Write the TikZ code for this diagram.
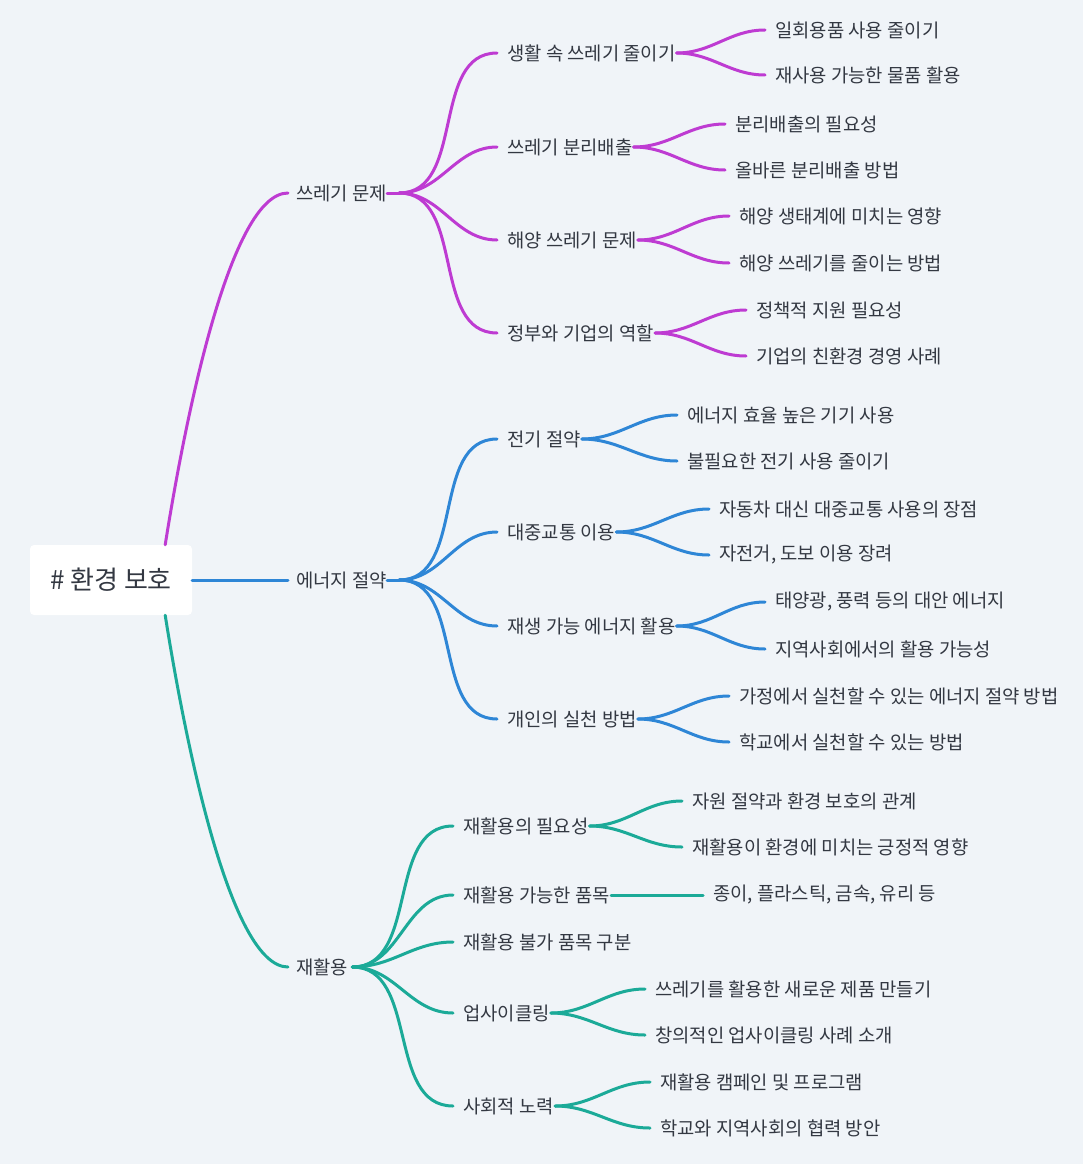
\documentclass[tikz,border=0pt]{standalone}
\usepackage{fontspec}
\setmainfont{Noto Sans CJK KR}
\definecolor{bg}{HTML}{F0F4F8}
\definecolor{cP}{HTML}{BE3BD2}
\definecolor{cB}{HTML}{2E86D6}
\definecolor{cT}{HTML}{1BAA98}
\definecolor{tx}{HTML}{333842}
\tikzset{
  lbl/.style={anchor=west,inner sep=0pt,text=tx,font=\fontsize{18.8}{22}\selectfont},
  edge/.style={line width=3pt,line cap=round},
}
\newcommand\kid[6]{%
  \node[lbl] (#2) at (#3,#4) {#5};
  \coordinate (#2-in) at (#3-10,#4);
  \coordinate (#2-out) at ([xshift=1pt]#2.east);
  \draw[edge,#6] (#1) to[out=0,in=180] (#2-in);
}
\begin{document}
\begin{tikzpicture}[x=1pt,y=-1pt]
\fill[bg] (0,0) rectangle (1083,1164);
\useasboundingbox (0,0) rectangle (1083,1164);
\node[fill=white,rounded corners=4pt,minimum width=162pt,minimum height=70pt,text=tx,font=\fontsize{26}{30}\selectfont] (root) at (111,580) {\# 환경 보호};
% level 1
\node[lbl] (A) at (296,193) {쓰레기 문제};
\node[lbl] (B) at (296,580) {에너지 절약};
\node[lbl] (C) at (296,967) {재활용};
\coordinate (A-out) at ([xshift=12pt]A.east);
\coordinate (B-out) at ([xshift=12pt]B.east);
\coordinate (C-out) at ([xshift=4pt]C.east);
\draw[edge,cP] (A.east) -- (A-out);
\draw[edge,cB] (B.east) -- (B-out);
\draw[edge,cT] (root.north east) ++(-27,0) coordinate (rA) (root.south east) ++(-27,0) coordinate (rC);
\draw[edge,cP] (rA) .. controls (185,420) and (230,193) .. (288,193);
\draw[edge,cB] (root.east) -- (288,580);
\draw[edge,cT] (rC) .. controls (185,740) and (230,967) .. (288,967);
% purple
\kid{A-out}{A1}{507}{53}{생활 속 쓰레기 줄이기}{cP}
\kid{A-out}{A2}{507}{147}{쓰레기 분리배출}{cP}
\kid{A-out}{A3}{507}{240}{해양 쓰레기 문제}{cP}
\kid{A-out}{A4}{507}{333}{정부와 기업의 역할}{cP}
\kid{A1-out}{A11}{775}{30}{일회용품 사용 줄이기}{cP}
\kid{A1-out}{A12}{775}{75}{재사용 가능한 물품 활용}{cP}
\kid{A2-out}{A21}{735}{124}{분리배출의 필요성}{cP}
\kid{A2-out}{A22}{735}{170}{올바른 분리배출 방법}{cP}
\kid{A3-out}{A31}{739}{216}{해양 생태계에 미치는 영향}{cP}
\kid{A3-out}{A32}{739}{263}{해양 쓰레기를 줄이는 방법}{cP}
\kid{A4-out}{A41}{756}{310}{정책적 지원 필요성}{cP}
\kid{A4-out}{A42}{756}{356}{기업의 친환경 경영 사례}{cP}
% blue
\kid{B-out}{B1}{507}{439}{전기 절약}{cB}
\kid{B-out}{B2}{507}{532}{대중교통 이용}{cB}
\kid{B-out}{B3}{507}{626}{재생 가능 에너지 활용}{cB}
\kid{B-out}{B4}{507}{719}{개인의 실천 방법}{cB}
\kid{B1-out}{B11}{687}{415}{에너지 효율 높은 기기 사용}{cB}
\kid{B1-out}{B12}{687}{461}{불필요한 전기 사용 줄이기}{cB}
\kid{B2-out}{B21}{719}{509}{자동차 대신 대중교통 사용의 장점}{cB}
\kid{B2-out}{B22}{719}{555}{자전거, 도보 이용 장려}{cB}
\kid{B3-out}{B31}{775}{602}{태양광, 풍력 등의 대안 에너지}{cB}
\kid{B3-out}{B32}{775}{649}{지역사회에서의 활용 가능성}{cB}
\kid{B4-out}{B41}{739}{696}{가정에서 실천할 수 있는 에너지 절약 방법}{cB}
\kid{B4-out}{B42}{739}{742}{학교에서 실천할 수 있는 방법}{cB}
% teal
\kid{C-out}{C1}{463}{826}{재활용의 필요성}{cT}
\kid{C-out}{C2}{463}{895}{재활용 가능한 품목}{cT}
\kid{C-out}{C3}{463}{942}{재활용 불가 품목 구분}{cT}
\kid{C-out}{C4}{463}{1013}{업사이클링}{cT}
\kid{C-out}{C5}{463}{1106}{사회적 노력}{cT}
\kid{C1-out}{C11}{692}{801}{자원 절약과 환경 보호의 관계}{cT}
\kid{C1-out}{C12}{692}{847}{재활용이 환경에 미치는 긍정적 영향}{cT}
\kid{C2-out}{C21}{713}{895}{종이, 플라스틱, 금속, 유리 등}{cT}
\kid{C4-out}{C41}{655}{989}{쓰레기를 활용한 새로운 제품 만들기}{cT}
\kid{C4-out}{C42}{655}{1035}{창의적인 업사이클링 사례 소개}{cT}
\kid{C5-out}{C51}{660}{1082}{재활용 캠페인 및 프로그램}{cT}
\kid{C5-out}{C52}{660}{1128}{학교와 지역사회의 협력 방안}{cT}
\end{tikzpicture}
\end{document}
